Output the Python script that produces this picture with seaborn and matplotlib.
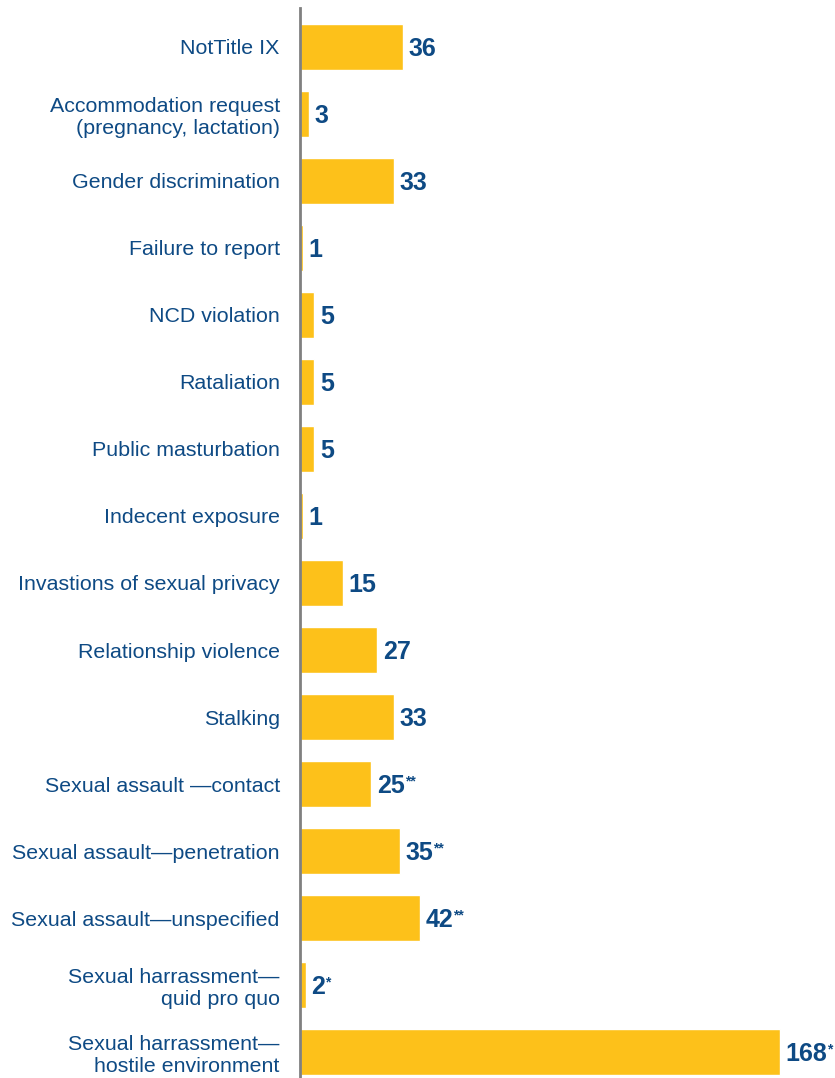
import matplotlib
matplotlib.use("Agg")
import matplotlib.pyplot as plt
import seaborn as sns
import pandas as pd

# ── Data ────────────────────────────────────────────────────────────────────
categories = [
    "NotTitle IX",
    "Accommodation request\n(pregnancy, lactation)",
    "Gender discrimination",
    "Failure to report",
    "NCD violation",
    "Rataliation",
    "Public masturbation",
    "Indecent exposure",
    "Invastions of sexual privacy",
    "Relationship violence",
    "Stalking",
    "Sexual assault \u2014contact",
    "Sexual assault\u2014penetration",
    "Sexual assault\u2014unspecified",
    "Sexual harrassment\u2014\nquid pro quo",
    "Sexual harrassment\u2014\nhostile environment",
]
counts = [36, 3, 33, 1, 5, 5, 5, 1, 15, 27, 33, 25, 35, 42, 2, 168]
footnotes = ["", "", "", "", "", "", "", "", "", "", "", "**", "**", "**", "*", "*"]

df = pd.DataFrame({"category": categories, "count": counts})

BAR = "#FDC11A"
BLUE = "#0E4A84"
GREY = "#808080"

sns.set_theme(style="white")
plt.rcParams["font.family"] = ["Liberation Sans", "DejaVu Sans"]

fig = plt.figure(figsize=(8.35, 10.78), dpi=100)
ax = fig.add_axes([300 / 835, 0, 535 / 835, 1 - 8 / 1078])

sns.barplot(data=df, x="count", y="category", orient="h", color=BAR,
            saturation=1, width=0.70, ax=ax)

ax.set_xlim(0, 535 / 2.857)
ax.set_ylim(15.388, -0.582)
ax.set_xlabel("")
ax.set_ylabel("")
ax.set_xticks([])
ax.tick_params(axis="y", length=0, pad=14.5, labelsize=15.4, labelcolor=BLUE)
for lab in ax.get_yticklabels():
    lab.set_horizontalalignment("right")
    lab.set_multialignment("right")
    lab.set_linespacing(1.18)

for side in ["top", "right", "bottom"]:
    ax.spines[side].set_visible(False)
ax.spines["left"].set_color(GREY)
ax.spines["left"].set_linewidth(2)

# ── Value labels with footnote markers ──────────────────────────────────────
for i, (v, note) in enumerate(zip(counts, footnotes)):
    txt = ax.annotate(str(v), xy=(v, i), xytext=(4, -1.5), textcoords="offset points",
                      ha="left", va="center", fontsize=18, fontweight="bold",
                      color=BLUE)
    if note:
        ax.annotate(note, xy=(1, 1), xycoords=txt, xytext=(0, 0),
                    textcoords="offset points", ha="left", va="top",
                    fontsize=10, fontweight="bold", color=BLUE)

fig.savefig("out.png", dpi=100)
